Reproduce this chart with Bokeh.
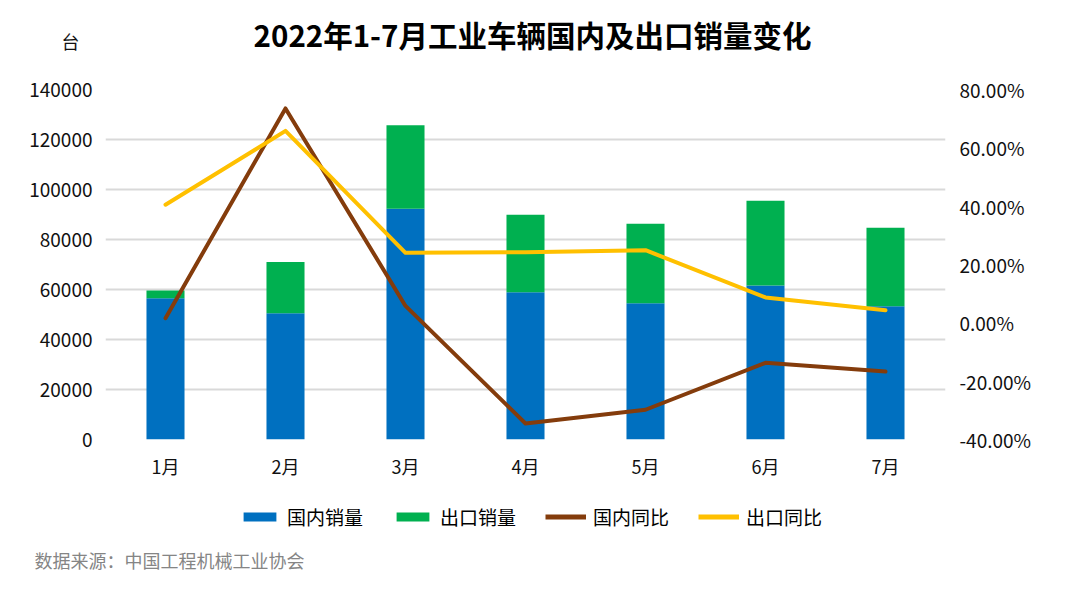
from bokeh.plotting import figure
from bokeh.layouts import column
from bokeh.models import (Range1d, LinearAxis, FixedTicker, NumeralTickFormatter,
                          ColumnDataSource, Legend, LegendItem, FactorRange)
from bokeh.core.properties import value
from bokeh.embed import file_html
from bokeh.resources import INLINE

months = ["1月", "2月", "3月", "4月", "5月", "6月", "7月"]
domestic = [56500, 50500, 92300, 58900, 54500, 61600, 53300]
export = [3100, 20500, 33400, 31000, 31800, 33900, 31400]
domestic_yoy = [0.016, 0.735, 0.058, -0.345, -0.298, -0.137, -0.167]
export_yoy = [0.405, 0.658, 0.240, 0.242, 0.249, 0.087, 0.043]

left_ticks = [0, 20000, 40000, 60000, 80000, 100000, 120000, 140000]
right_ticks = [-0.4, -0.2, 0.0, 0.2, 0.4, 0.6, 0.8]

series_names = ["国内销量", "出口销量", "国内同比", "出口同比"]
title_text = "2022年1-7月工业车辆国内及出口销量变化"
unit_text = "台"
source_text = "数据来源：中国工程机械工业协会"

FONT = "Noto Sans CJK SC"
C_DOM = "#0070C0"
C_EXP = "#00B050"
C_DYOY = "#843C0C"
C_EYOY = "#FFC000"
TXT = "#111111"

W = 1065
H_TOP, H_MAIN, H_BOT = 70, 411, 112
FRAME_L, FRAME_R = 105, 945


def blank(h, **kw):
    # helper canvas whose frame is aligned with the main frame; x/y in page pixels
    f = figure(width=W, height=h, x_range=Range1d(FRAME_L, FRAME_R), y_range=Range1d(h, 0),
               output_backend="svg", toolbar_location=None, title_location=None,
               x_axis_type=None, y_axis_type=None, **kw)
    f.outline_line_color = None
    f.xgrid.visible = False
    f.ygrid.visible = False
    f.background_fill_color = "white"
    f.border_fill_color = "white"
    return f


def text_axis(ax, size, color, standoff):
    ax.axis_line_color = None
    ax.major_tick_line_color = None
    ax.minor_tick_line_color = None
    ax.major_tick_out = 0
    ax.major_tick_in = 0
    ax.major_label_standoff = standoff
    ax.major_label_text_font = FONT
    ax.major_label_text_font_size = size
    ax.major_label_text_color = color


# ---------- top: title + unit ----------
top = blank(H_TOP, min_border=0)
top.text(x=[532], y=[33], text=[title_text], text_font=value(FONT), text_font_style="bold",
         text_font_size="29.5px", text_color="black", text_align="center",
         text_baseline="middle")
unit_axis = LinearAxis(ticker=FixedTicker(ticks=[40]), major_label_overrides={40: unit_text})
text_axis(unit_axis, "18px", TXT, 26)
top.add_layout(unit_axis, "left")

# ---------- main chart ----------
p = figure(width=W, height=H_MAIN, x_range=FactorRange(*months), y_range=Range1d(0, 140000),
           output_backend="svg", toolbar_location=None, title_location=None,
           min_border_left=FRAME_L, min_border_right=W - FRAME_R,
           min_border_top=19, min_border_bottom=40)
p.extra_y_ranges = {"pct": Range1d(-0.4, 0.8)}
p.outline_line_color = None
p.background_fill_color = "white"
p.border_fill_color = "white"

src = ColumnDataSource(dict(m=months, dom=domestic, exp=export, dy=domestic_yoy, ey=export_yoy))
p.vbar_stack(["dom", "exp"], x="m", width=0.317, source=src,
             color=[C_DOM, C_EXP], line_color=None)
p.line("m", "dy", source=src, y_range_name="pct", line_color=C_DYOY, line_width=4,
       line_join="round", line_cap="round")
p.line("m", "ey", source=src, y_range_name="pct", line_color=C_EYOY, line_width=4,
       line_join="round", line_cap="round")

ya = p.yaxis[0]
ya.ticker = FixedTicker(ticks=left_ticks)
ya.formatter = NumeralTickFormatter(format="0")
ra = LinearAxis(y_range_name="pct", ticker=FixedTicker(ticks=right_ticks),
                formatter=NumeralTickFormatter(format="0.00%"))
p.add_layout(ra, "right")
xa = p.xaxis[0]
text_axis(ya, "19px", TXT, 13)
text_axis(ra, "19px", TXT, 14)
text_axis(xa, "18px", TXT, 13)

p.xgrid.grid_line_color = None
p.ygrid.ticker = FixedTicker(ticks=left_ticks)
p.ygrid.grid_line_color = "#D9D9D9"
p.ygrid.grid_line_width = 2

# ---------- bottom: legend + source ----------
bot = blank(H_BOT, min_border_left=0, min_border_right=0, min_border_top=0,
            min_border_bottom=47)
key_src = ColumnDataSource(dict(x=[-1000], y=[0]))
k1 = bot.vbar(x="x", top="y", width=1, source=key_src, color=C_DOM, line_color=None)
k2 = bot.vbar(x="x", top="y", width=1, source=key_src, color=C_EXP, line_color=None)
k3 = bot.line(x="x", y="y", source=key_src, line_color=C_DYOY, line_width=5)
k4 = bot.line(x="x", y="y", source=key_src, line_color=C_EYOY, line_width=5)
legend = Legend(items=[LegendItem(label=n, renderers=[r])
                       for n, r in zip(series_names, [k1, k2, k3, k4])],
                orientation="horizontal", location=(134, 16))
legend.border_line_color = None
legend.background_fill_alpha = 0
legend.label_text_font = FONT
legend.label_text_font_size = "19px"
legend.label_text_color = "black"
legend.glyph_width = 41
legend.glyph_height = 11
legend.spacing = 29
legend.label_standoff = 7
legend.padding = 0
legend.margin = 0
bot.add_layout(legend, "center")
src_axis = LinearAxis(ticker=FixedTicker(ticks=[169]), major_label_overrides={169: source_text})
text_axis(src_axis, "18px", "#858585", 0)
bot.add_layout(src_axis, "below")

layout = column(top, p, bot, spacing=0)
open("out.html", "w").write(file_html(layout, INLINE))
